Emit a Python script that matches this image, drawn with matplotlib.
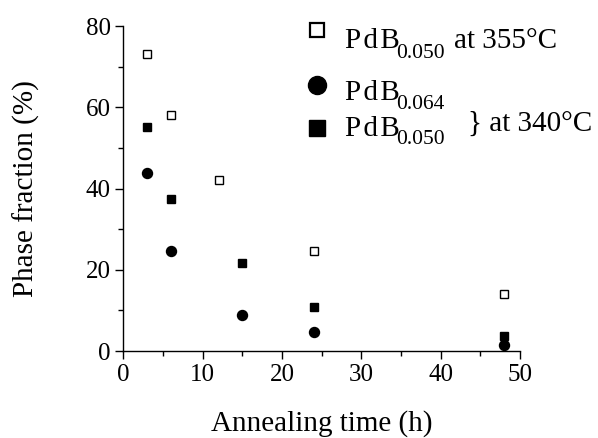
import matplotlib

matplotlib.use("Agg")

import matplotlib.pyplot as plt
from matplotlib.lines import Line2D
from matplotlib.ticker import MultipleLocator

plt.rcParams["font.family"] = ["Liberation Serif", "DejaVu Serif"]

# Annealing time (h) and phase fraction (%).
t_355_050 = [3, 6, 12, 24, 48]
f_355_050 = [73, 58, 42, 24.7, 14]

t_340_064 = [3, 6, 15, 24, 48]
f_340_064 = [43.9, 24.5, 8.8, 4.75, 1.4]

t_340_050 = [3, 6, 15, 24, 48]
f_340_050 = [55.1, 37.4, 21.6, 10.9, 3.8]

fig = plt.figure(figsize=(5.98, 4.38), dpi=100)
ax = fig.add_axes([0.2062, 0.1986, 0.6634, 0.742])

ax.plot(t_355_050, f_355_050, "s", ms=6.0, mfc="white", mec="black",
        mew=1.0, ls="none", clip_on=False)
ax.plot(t_340_064, f_340_064, "o", ms=7.2, mfc="black", mec="black",
        ls="none", clip_on=False)
ax.plot(t_340_050, f_340_050, "s", ms=6.2, mfc="black", mec="black",
        ls="none", clip_on=False)

ax.set_xlim(0, 50)
ax.set_ylim(0, 80)
ax.xaxis.set_major_locator(MultipleLocator(10))
ax.xaxis.set_minor_locator(MultipleLocator(5))
ax.yaxis.set_major_locator(MultipleLocator(20))
ax.yaxis.set_minor_locator(MultipleLocator(10))

for side in ("top", "right"):
    ax.spines[side].set_visible(False)
for side in ("left", "bottom"):
    ax.spines[side].set_linewidth(1.0)

ax.tick_params(which="major", direction="out", length=6, width=1.0,
               labelsize=18, pad=3)
ax.tick_params(which="minor", direction="out", length=3.5, width=1.0)

ax.set_xlabel("Annealing time (h)", fontsize=21, labelpad=18)
ax.set_ylabel("Phase fraction (%)", fontsize=21, labelpad=33)

# hand-built legend, top right
mk = dict(ls="none", mec="black", transform=fig.transFigure)
fig.add_artist(Line2D([0.530], [0.9315], marker="s", ms=10, mfc="white",
                      mew=1.6, **mk))
fig.add_artist(Line2D([0.530], [0.806], marker="o", ms=13, mfc="black", **mk))
fig.add_artist(Line2D([0.530], [0.708], marker="s", ms=11, mfc="black", **mk))

pdb = "P\u200ad\u200aB"
fs, sub = 21, 15.5
fig.text(0.577, 0.8897, pdb, fontsize=fs)
fig.text(0.662, 0.867, "0.050", fontsize=sub)
fig.text(0.759, 0.8897, "at 355°C", fontsize=fs)

fig.text(0.577, 0.7717, pdb, fontsize=fs)
fig.text(0.662, 0.7504, "0.064", fontsize=sub)

fig.text(0.577, 0.6895, pdb, fontsize=fs)
fig.text(0.662, 0.6712, "0.050", fontsize=sub)
fig.text(0.783, 0.7017, "} at 340°C", fontsize=fs)

fig.savefig("out.png", dpi=100)
